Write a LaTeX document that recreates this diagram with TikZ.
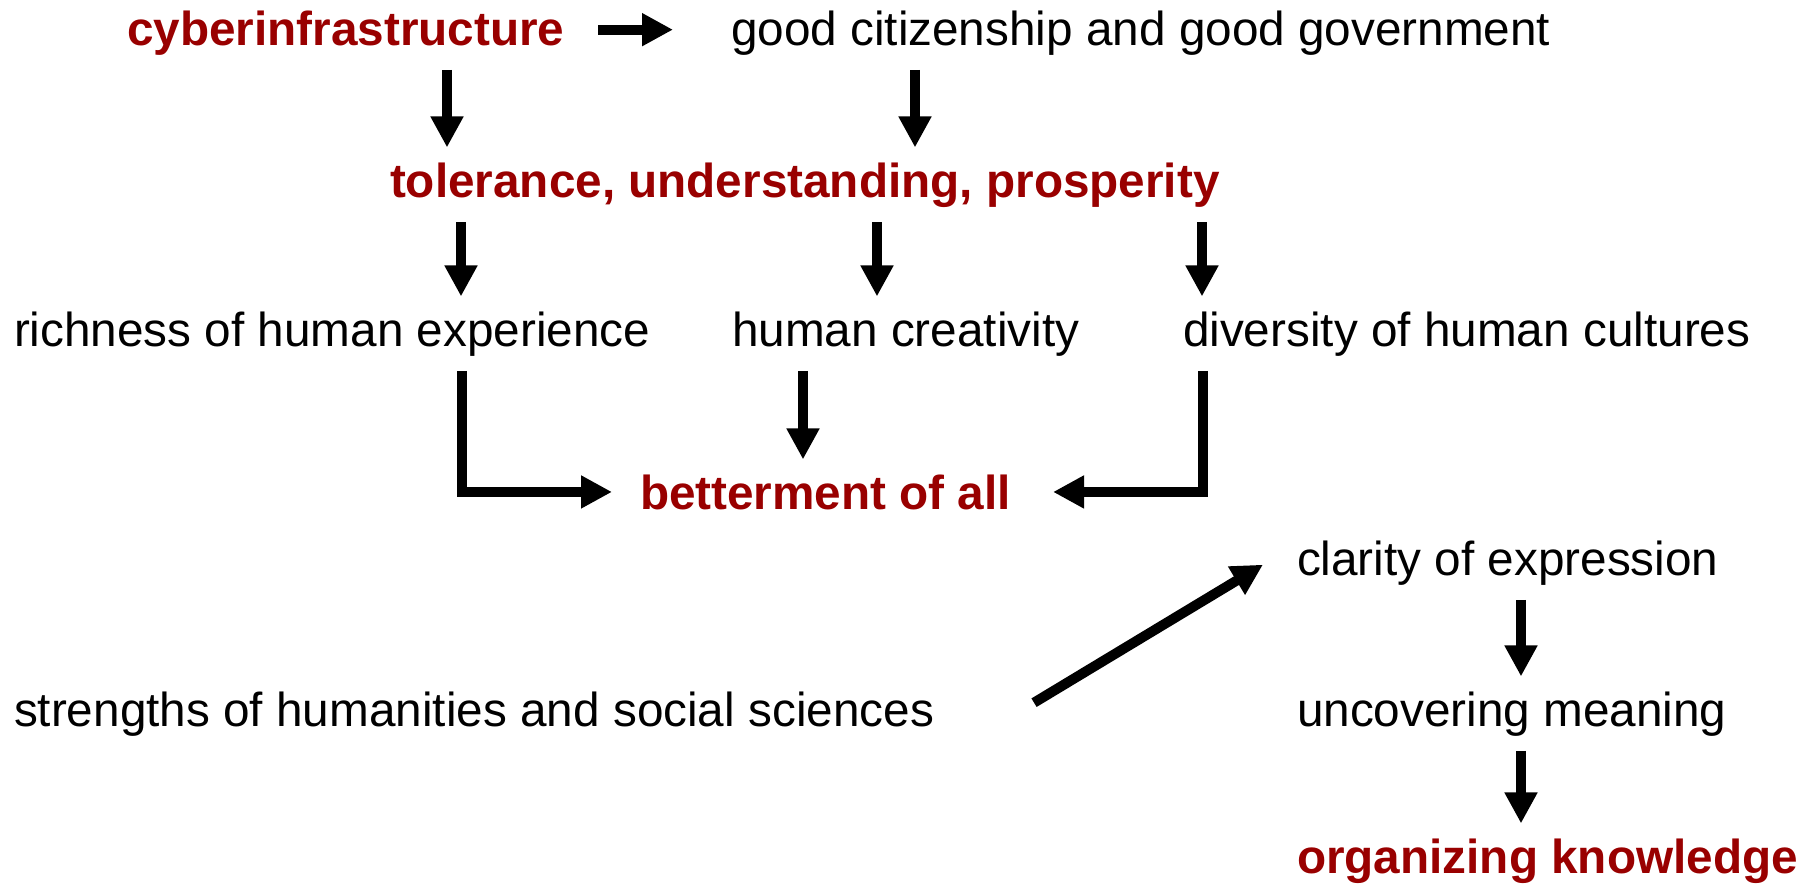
\documentclass[tikz,border=0pt]{standalone}
\usepackage{fontspec}
\setmainfont{Liberation Sans}
\usepackage{tikz}
\usetikzlibrary{arrows.meta}

\definecolor{darkred}{HTML}{990000}

\tikzset{
  txt/.style={anchor=base west, inner sep=0pt, outer xsep=0pt, outer ysep=15pt,
    font=\fontsize{47.7}{57}\selectfont},
  key/.style={txt, text=darkred, font=\fontsize{47.7}{57}\selectfont\bfseries},
  arr/.style={-{Triangle[width=31pt,length=31pt]}, line width=10pt}
}

\begin{document}
\begin{tikzpicture}[x=1pt,y=-1pt]

  \useasboundingbox (0,0) rectangle (1816,887);

  \node[key] (cyber) at (127,45) {cyberinfrastructure};
  \node[txt] (good) at (731,45) {good citizenship and good government};

  \node[key] (tol) at (390,197) {tolerance, understanding, prosperity};

  \node[txt] (rich) at (14,346) {richness of human experience};
  \node[txt] (creat) at (732,346) {human creativity};
  \node[txt] (div) at (1183,346) {diversity of human cultures};

  \node[key] (better) at (640,509) {betterment of all};

  \node[txt] (clar) at (1297,575) {clarity of expression};
  \node[txt] (strength) at (14,726) {strengths of humanities and social sciences};
  \node[txt] (uncov) at (1297,726) {uncovering meaning};
  \node[key] (organ) at (1297,873) {organizing knowledge};

  \path[arr] ([xshift=34pt,yshift=3pt]cyber.east) edge ([xshift=-58pt,yshift=3pt]good.west);
  \path[arr] ([xshift=320pt]cyber.south west) edge ([xshift=320pt]cyber.south west |- tol.north);
  \path[arr] ([xshift=184pt]good.south west) edge ([xshift=184pt]good.south west |- tol.north);

  \path[arr] ([xshift=71pt]tol.south west) edge ([xshift=71pt]tol.south west |- rich.north);
  \path[arr] ([xshift=487pt]tol.south west) edge ([xshift=487pt]tol.south west |- creat.north);
  \path[arr] ([xshift=812pt]tol.south west) edge ([xshift=812pt]tol.south west |- div.north);

  \draw[arr] ([xshift=448pt]rich.south west) |- ([xshift=-28pt]better.west);
  \draw[arr] ([xshift=71pt]creat.south west) -- ([xshift=71pt]creat.south west |- better.north);
  \draw[arr] ([xshift=20pt]div.south west) |- ([xshift=42pt]better.east);

  \path[arr] ([xshift=100pt,yshift=11pt]strength.east) edge ([xshift=-34pt,yshift=-2pt]clar.west);
  \path[arr] ([xshift=224pt]clar.south west) edge ([xshift=224pt]clar.south west |- uncov.north);
  \path[arr] ([xshift=224pt]uncov.south west) edge ([xshift=224pt]uncov.south west |- organ.north);

\end{tikzpicture}
\end{document}
